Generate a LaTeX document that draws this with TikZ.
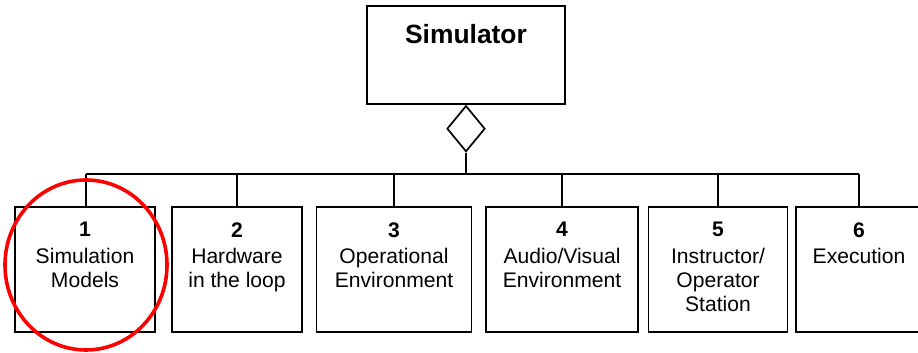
\documentclass[tikz,border=0pt]{standalone}
\usepackage{fontspec}
\setmainfont{Liberation Sans}
\usetikzlibrary{shapes.geometric}
\tikzset{
  x=1pt, y=1pt,
  box/.style={draw, line width=1.7pt, inner sep=0pt, minimum height=125pt},
  caption/.style={anchor=north, inner sep=0pt, align=center,
    font=\fontsize{21.1}{24}\selectfont},
  link/.style={line width=1.7pt},
  mark ring/.style={draw=red, line width=3.6pt}
}
\begin{document}
\begin{tikzpicture}
  \useasboundingbox (0,0) rectangle (918,353);
  \clip (0,0) rectangle (918,353);
  \fill[white] (0,0) rectangle (918,353);

  % top-level block and aggregation diamond
  \node[box, minimum width=198pt, minimum height=98pt] (sim) at (466,298) {};
  \node[anchor=north, inner sep=0pt, font=\fontsize{26.4}{30}\selectfont\bfseries]
    (simt) at ([yshift=-19pt]sim.north) {Simulator};
  \node[diamond, draw, line width=1.7pt, inner sep=0pt, minimum width=38pt,
    minimum height=46pt, anchor=north] (agg) at (sim.south) {};

  % component blocks
  \node[box, minimum width=140pt] (b1) at (85,83.5) {};
  \node[box, minimum width=130pt] (b2) at (237,83.5) {};
  \node[box, minimum width=155pt] (b3) at (394,83.5) {};
  \node[box, minimum width=152pt] (b4) at (562,83.5) {};
  \node[box, minimum width=139pt] (b5) at (718,83.5) {};
  \node[box, minimum width=126pt] (b6) at (859,83.5) {};

  \node[caption] (t1) at ([yshift=-16pt]b1.north) {\textbf{1}\\[2.5pt]Simulation\\Models};
  \node[caption] (t2) at ([yshift=-16pt]b2.north) {\textbf{2}\\[2.5pt]Hardware\\in the loop};
  \node[caption] (t3) at ([yshift=-16pt]b3.north) {\textbf{3}\\[2.5pt]Operational\\Environment};
  \node[caption] (t4) at ([yshift=-16pt]b4.north) {\textbf{4}\\[2.5pt]Audio/Visual\\Environment};
  \node[caption] (t5) at ([yshift=-16pt]b5.north) {\textbf{5}\\[2.5pt]Instructor/\\Operator\\Station};
  \node[caption] (t6) at ([yshift=-16pt]b6.north) {\textbf{6}\\[2.5pt]Execution};

  % tree connectors
  \coordinate (bus) at (466,179);
  \draw[link] (agg.south) -- (agg.south |- bus);
  \draw[link] ([xshift=1pt]b1.north |- bus) -- (b6.north |- bus);
  \draw[link] ([xshift=1pt]b1.north) -- ([xshift=1pt]b1.north |- bus);
  \foreach \b in {b2,b3,b4,b5,b6}
    \draw[link] (\b.north) -- (\b.north |- bus);

  % highlight ring around the first block
  \draw[mark ring] (86,88) ellipse [x radius=81pt, y radius=85pt];
\end{tikzpicture}
\end{document}
